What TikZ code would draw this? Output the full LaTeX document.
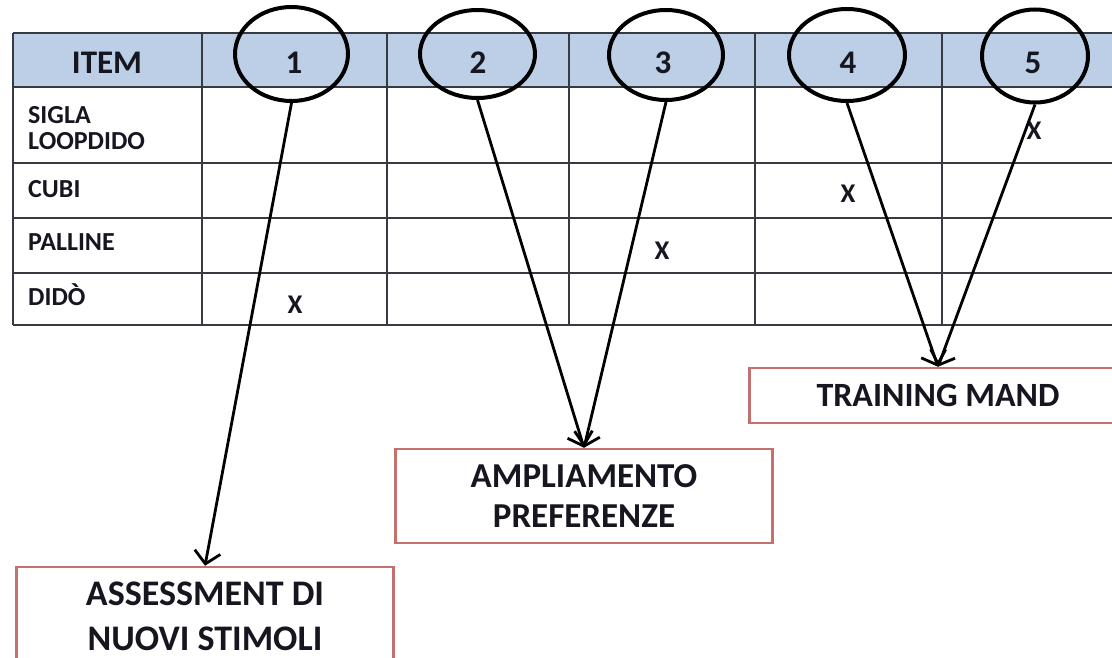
\documentclass[tikz,border=0pt]{standalone}
\usepackage{fontspec}
\setmainfont{Carlito}
\usetikzlibrary{shapes.geometric,arrows.meta}
\definecolor{hdr}{RGB}{189,207,230}
\definecolor{grid}{RGB}{55,58,65}
\definecolor{boxred}{RGB}{196,112,110}
\definecolor{ink}{RGB}{22,22,32}
\begin{document}
\begin{tikzpicture}[x=1pt,y=-1pt,
  gridline/.style={draw=grid, line width=1.8pt},
  ring/.style={ellipse, draw=black, line width=4pt, inner sep=0pt},
  arr/.style={draw=black, line width=2.8pt, -{Straight Barb[length=12pt,width=26pt,line width=2.8pt]}},
  target/.style={draw=boxred, line width=2.5pt, fill=white, align=center, text=ink, minimum width=377pt, inner sep=0pt},
  lbl/.style={anchor=base west, text=ink, font=\bfseries\fontsize{26}{27}\selectfont, inner sep=0pt, align=left},
  hd/.style={anchor=base, text=ink, font=\bfseries\fontsize{33}{34}\selectfont, inner sep=0pt},
  xmk/.style={anchor=base, text=ink, font=\bfseries\fontsize{27}{30}\selectfont, inner sep=0pt}]
\useasboundingbox (0,0) rectangle (1112,658);
\clip (0,0) rectangle (1112,658);
\fill[white] (0,0) rectangle (1112,658);
% table
\fill[hdr] (13,33) rectangle (1130,87);
\foreach \yy in {33,87,163,218,273,325} \draw[gridline] (13,\yy) -- (1130,\yy);
\foreach \xx in {13,202,387,569,755,942} \draw[gridline] (\xx,33) -- (\xx,325);
% header texts
\node[hd] (hitem) at (107,74) {ITEM};
\node[hd] (h1) at (294,74) {1};
\node[hd] (h2) at (478,74) {2};
\node[hd] (h3) at (663,74) {3};
\node[hd] (h4) at (848,74) {4};
\node[hd] (h5) at (1033,74) {5};
% row labels
\node[lbl] (r1) at (28,150) {SIGLA\\LOOPDIDO};
\node[lbl] (r2) at (28,198) {CUBI};
\node[lbl] (r3) at (28,250) {PALLINE};
\node[lbl] (r4) at (28,305) {DIDÒ};
% marks
\node[xmk] (x1) at (295,313) {X};
\node[xmk] (x3) at (662,259) {X};
\node[xmk] (x4) at (848,203) {X};
\node[xmk] (x5) at (1034,140) {X};
% ellipses
\node[ring, minimum width=113pt, minimum height=94pt] (e1) at (291.5,54) {};
\node[ring, minimum width=115pt, minimum height=88pt] (e2) at (477.5,54) {};
\node[ring, minimum width=114pt, minimum height=90pt] (e3) at (666,55) {};
\node[ring, minimum width=116pt, minimum height=92pt] (e4) at (847,55) {};
\node[ring, minimum width=106pt, minimum height=93pt] (e5) at (1035,56) {};
% boxes
\node[target, minimum height=98pt, font=\bfseries\fontsize{36}{45}\selectfont] (b1) at (205,616) {ASSESSMENT DI\\NUOVI STIMOLI};
\node[target, minimum height=94pt, font=\bfseries\fontsize{35}{40}\selectfont] (b2) at (584,496) {AMPLIAMENTO\\PREFERENZE};
\node[target, minimum height=55pt, font=\bfseries\fontsize{34}{38}\selectfont] (b3) at (938,395.5) {TRAINING MAND};
% arrows
\draw[arr] (e1.south) -- (b1.north);
\draw[arr] (e2.south) -- (b2.north);
\draw[arr] (e3.south) -- (b2.north);
\draw[arr] (e4.south) -- (b3.north);
\draw[arr] (e5.south) -- (b3.north);
\end{tikzpicture}
\end{document}
